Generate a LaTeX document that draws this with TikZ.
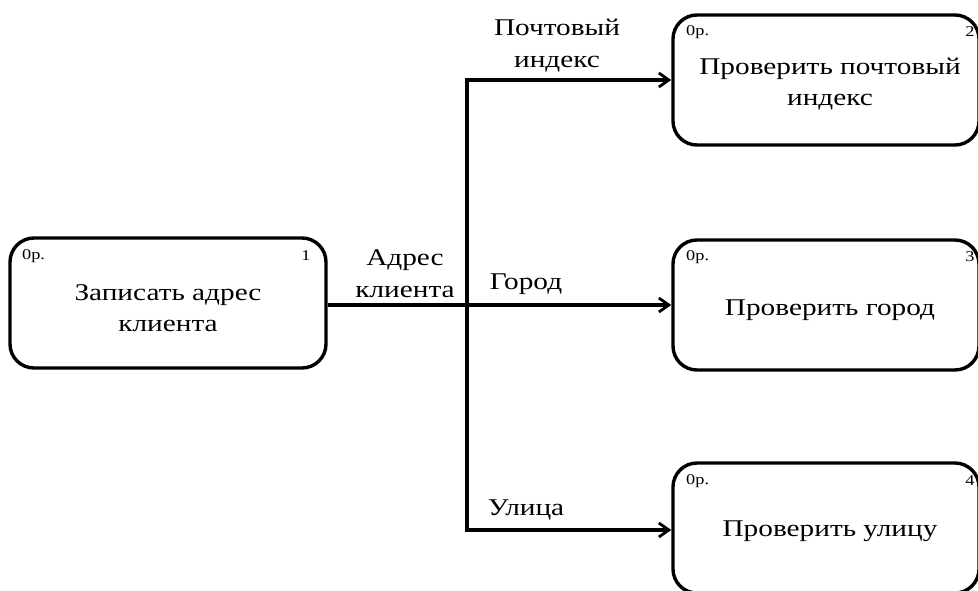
\documentclass[tikz,border=0pt]{standalone}
\usepackage{fontspec}
\setmainfont[FakeStretch=1.22]{Liberation Serif}
\usetikzlibrary{arrows.meta}
\begin{document}
\begin{tikzpicture}[x=1pt,y=-1pt,
  func/.style={draw, line width=3.4pt, rounded corners=24pt, inner sep=0pt,
    minimum height=130pt},
  ftext/.style={font=\fontsize{24}{31}\selectfont, align=center, inner sep=0pt},
  corner/.style={font=\fontsize{15}{16}\selectfont, inner sep=0pt},
  flow/.style={line width=3.4pt, -{Straight Barb[length=10pt,width=14pt,line width=2.8pt]}},
  plain/.style={line width=3.4pt},
  lbl/.style={font=\fontsize{24}{32}\selectfont, align=center, inner sep=0pt}]
\useasboundingbox (0,0) rectangle (978,590);
% activity boxes
\node[func, minimum width=316pt] (a1) at (168,303) {};
\node[func, minimum width=306pt] (a2) at (826,80) {};
\node[func, minimum width=306pt] (a3) at (826,305) {};
\node[func, minimum width=306pt] (a4) at (826,528) {};
% activity names
\node[ftext] (t1) at (168,308) {Записать адрес\\клиента};
\node[ftext] (t2) at (830,84) {Проверить почтовый\\индекс};
\node[ftext] (t3) at (830,310) {Проверить город};
\node[ftext] (t4) at (830,531) {Проверить улицу};
% corner marks
\node[corner, anchor=west] (c1l) at (22,256) {0р.};
\node[corner] (c1r) at (306,256) {1};
\node[corner, anchor=west] (c2l) at (686,32) {0р.};
\node[corner] (c2r) at (970,32) {2};
\node[corner, anchor=west] (c3l) at (686,257) {0р.};
\node[corner] (c3r) at (970,257) {3};
\node[corner, anchor=west] (c4l) at (686,481) {0р.};
\node[corner] (c4r) at (970,481) {4};
% branching point
\coordinate (j) at (467,305);
\coordinate (jt) at (467,80);
\coordinate (jb) at (467,530);
\draw[plain] (a1.east |- j) -- (j);
\draw[plain, line cap=rect] (jt) -- (jb);
\draw[flow] (jt) -- (a2.west |- jt);
\draw[flow] (j) -- (a3.west |- j);
\draw[flow] (jb) -- (a4.west |- jb);
% arrow labels
\node[lbl] (l1) at (405,274) {Адрес\\клиента};
\node[lbl] (l2) at (557,46) {Почтовый\\индекс};
\node[lbl] (l3) at (526,284) {Город};
\node[lbl] (l4) at (526,510) {Улица};
\end{tikzpicture}
\end{document}
